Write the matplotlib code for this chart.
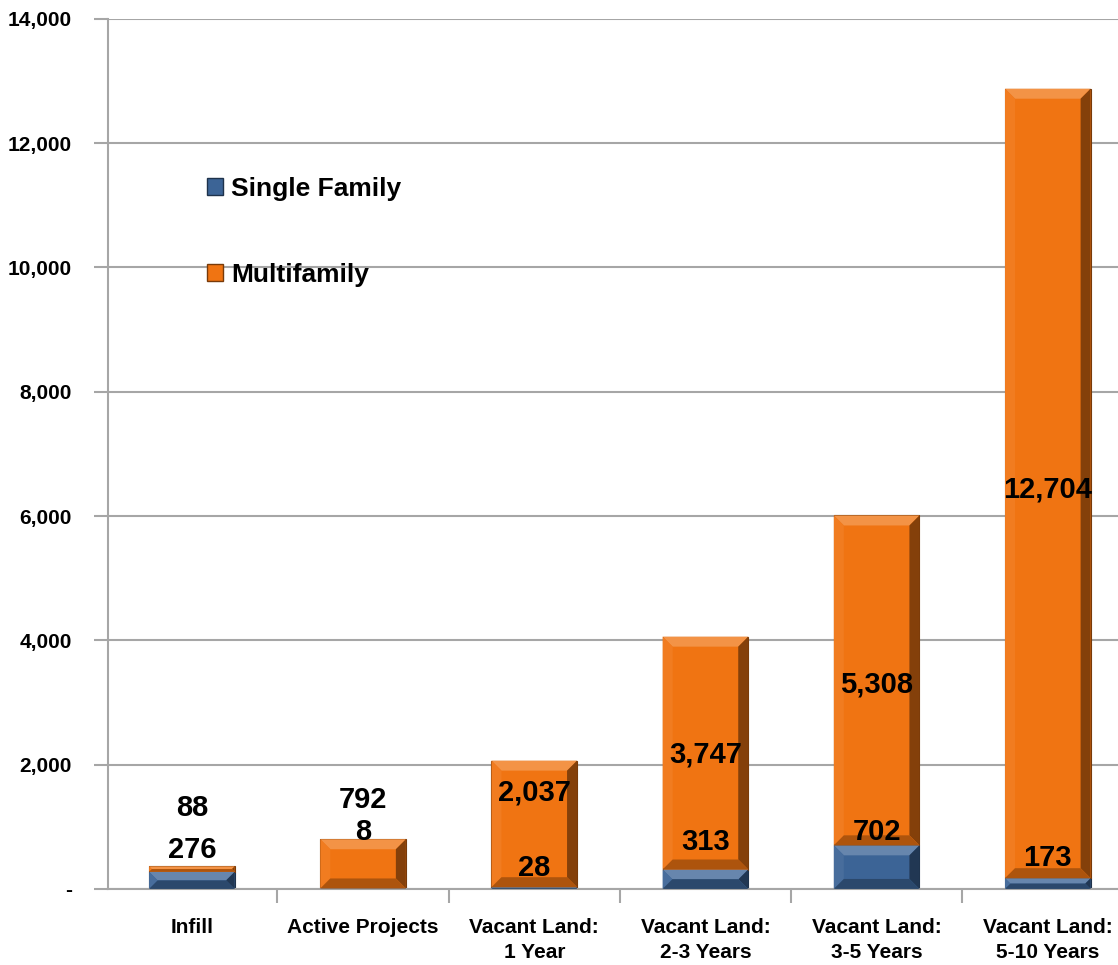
# coding=utf-8
"""Stacked bar chart of housing capacity by land category."""

import matplotlib
matplotlib.use("Agg")
import matplotlib.pyplot as plt
from matplotlib.colors import to_rgb
from matplotlib.patches import Patch, Polygon
from matplotlib.ticker import FuncFormatter
import numpy

categories = ["Infill", "Active Projects", "Vacant Land:\n1 Year",
              "Vacant Land:\n2-3 Years", "Vacant Land:\n3-5 Years",
              "Vacant Land:\n5-10 Years"]
single_family = [276, 8, 28, 313, 702, 173]
multifamily = [88, 792, 2037, 3747, 5308, 12704]

# Where the data labels sit (data units)
label_y_single = [628, 917, 338, 756, 917, 499]
label_y_multi = [1303, 1432, 1545, 2156, 3283, 6420]

BLUE = "#3C6496"
ORANGE = "#F07412"
GRID = "#A6A6A6"

plt.rcParams["font.family"] = ["Liberation Sans Narrow", "Liberation Sans", "DejaVu Sans"]
plt.rcParams["font.weight"] = "bold"


def shade(colour, factor):
    """Lighten (factor > 0) or darken (factor < 0) a colour."""
    rgb = numpy.array(to_rgb(colour))
    if factor > 0:
        return tuple(rgb + (1 - rgb) * factor)
    return tuple(rgb * (1 + factor))


def add_bevel(ax, bar, colour, depth=10):
    """Draw a bevelled frame over one bar segment, sized in pixels."""
    x0, y0 = ax.transData.transform((bar.get_x(), bar.get_y()))
    x1, y1 = ax.transData.transform((bar.get_x() + bar.get_width(),
                                     bar.get_y() + bar.get_height()))
    d = min(depth, (y1 - y0) / 2, (x1 - x0) / 2)
    if d <= 0:
        return
    inv = ax.transData.inverted()
    faces = [
        ([(x0, y1), (x1, y1), (x1 - d, y1 - d), (x0 + d, y1 - d)], 0.22),
        ([(x0, y0), (x0, y1), (x0 + d, y1 - d), (x0 + d, y0 + d)], 0.06),
        ([(x1, y0), (x1, y1), (x1 - d, y1 - d), (x1 - d, y0 + d)], -0.45),
        ([(x0, y0), (x1, y0), (x1 - d, y0 + d), (x0 + d, y0 + d)], -0.28),
    ]
    for points, factor in faces:
        poly = Polygon(inv.transform(points), closed=True, facecolor=shade(colour, factor),
                       edgecolor="none", zorder=3)
        ax.add_patch(poly)


fig = plt.figure(figsize=(11.18, 9.65), dpi=100)
ax = fig.add_axes((0.0966, 0.0788, 0.9034, 0.9016))

x = numpy.arange(len(categories))
ax.set_xlim(-0.49, 5.41)
ax.set_ylim(0, 14000)

sf_bars = ax.bar(x, single_family, width=0.5, color=BLUE, zorder=2,
                 edgecolor=shade(BLUE, -0.5), linewidth=0.8)
mf_bars = ax.bar(x, multifamily, width=0.5, bottom=single_family, color=ORANGE, zorder=2,
                 edgecolor=shade(ORANGE, -0.5), linewidth=0.8)
for bar in sf_bars:
    add_bevel(ax, bar, BLUE)
for bar in mf_bars:
    add_bevel(ax, bar, ORANGE)

# Data labels
for i in range(len(categories)):
    ax.text(x[i], label_y_single[i], f"{single_family[i]:,}", ha="center", va="center",
            fontsize=21, fontweight="bold", zorder=5)
    ax.text(x[i], label_y_multi[i], f"{multifamily[i]:,}", ha="center", va="center",
            fontsize=21, fontweight="bold", zorder=5)

# Axes styling
ax.set_yticks(numpy.arange(0, 14001, 2000))
ax.yaxis.set_major_formatter(FuncFormatter(lambda v, _: "-" if v == 0 else f"{v:,.0f}"))
ax.tick_params(axis="y", length=10, width=1.5, color=GRID, pad=16, labelsize=15)
for label in ax.get_yticklabels():
    label.set_fontweight("bold")
ax.yaxis.grid(True, color=GRID, linewidth=1.5, zorder=0)
ax.set_axisbelow(True)

ax.set_xticks(x, labels=categories)
ax.set_xticks(x[:-1] + 0.5, minor=True)
ax.tick_params(axis="x", which="major", length=0, pad=21, labelsize=15)
ax.tick_params(axis="x", which="minor", length=10, width=1.5, color=GRID)
for label in ax.get_xticklabels():
    label.set_fontweight("bold")
    label.set_linespacing(1.4)

for side in ("top", "right"):
    ax.spines[side].set_visible(False)
for side in ("left", "bottom"):
    ax.spines[side].set_color(GRID)
    ax.spines[side].set_linewidth(1.5)

handles = [Patch(facecolor=BLUE, edgecolor=shade(BLUE, -0.5)),
           Patch(facecolor=ORANGE, edgecolor=shade(ORANGE, -0.5))]
ax.legend(handles, ["Single Family", "Multifamily"], loc="upper left",
          bbox_to_anchor=(0.075, 0.846), frameon=False, handlelength=0.6, handleheight=0.6,
          handletextpad=0.3, labelspacing=2.35, prop={"size": 19, "weight": "bold"})

fig.savefig("out.png", dpi=100)
